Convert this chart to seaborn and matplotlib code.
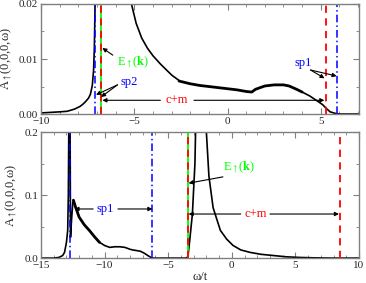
import numpy as np
import pandas as pd
import matplotlib
matplotlib.use("Agg")
import matplotlib.pyplot as plt
from matplotlib.ticker import MultipleLocator
import seaborn as sns

sns.set_style("ticks")
plt.rcParams['font.family'] = ['Liberation Serif', 'DejaVu Serif']
plt.rcParams['mathtext.fontset'] = 'stix'

# ---- top panel data (spectral function, small scale) ----
top_w = [-10, -9.5, -9.0, -8.6, -8.2, -7.9, -7.75, -7.6, -7.45, -7.35, -7.25, -7.18,
         -7.14, -7.1, -7.05, -6.8, -6.0, -5.5, -5.25, -5.15, -4.9, -4.6, -4.3, -4.0,
         -3.6, -3.3, -3.0, -2.6]
top_a = [0.0002, 0.0003, 0.0004, 0.0005, 0.0009, 0.0014, 0.0018, 0.0023, 0.0029, 0.0036,
         0.0052, 0.008, 0.012, 0.02, 0.03, 0.05, 0.04, 0.028, 0.022, 0.0200, 0.0165,
         0.0138, 0.0120, 0.0106, 0.0091, 0.0081, 0.0071, 0.0061]
top_noisy_w = [-2.6, -2.0, -1.5, -1.0, -0.5, 0.0, 0.5, 1.0, 1.3, 1.5, 2.0, 2.5, 3.0, 3.3, 3.7, 4.0]
top_noisy_a = [0.0060, 0.0055, 0.0052, 0.0050, 0.0048, 0.0046, 0.0044, 0.0041, 0.0040,
               0.0045, 0.0051, 0.0053, 0.0053, 0.0051, 0.0045, 0.0040]
top_tail_w = [4.0, 4.4, 4.8, 5.1, 5.3, 5.5, 5.8, 6.0, 7.0]
top_tail_a = [0.0040, 0.0033, 0.0024, 0.0017, 0.0010, 0.0004, 0.0001, 0.0, 0.0]

# ---- bottom panel data ----
bot_w = [-15, -14, -13.6, -13.3, -13.15, -13.0, -12.9, -12.85, -12.8, -12.72, -12.68,
         -12.6, -12.5, -12.45]
bot_a = [0.0, 0.0, 0.001, 0.004, 0.009, 0.025, 0.044, 0.1, 0.25, 0.25, 0.033,
         0.06, 0.088, 0.092]
bot_noisy_w = [-12.45, -12.3, -12.0, -11.6, -11.2, -10.8, -10.4]
bot_noisy_a = [0.092, 0.082, 0.065, 0.053, 0.044, 0.034, 0.025]
bot_mid_w = [-10.4, -10.0, -9.6, -9.2, -8.8, -8.4, -8.0, -7.8, -7.5, -7.2, -6.9, -6.6,
             -6.35, -6.2, -3.6, -3.45, -3.3, -3.1, -2.9, -2.8, -2.1, -2.0, -1.8, -1.47,
             -0.9, -0.4, 0.1, 0.7, 1.45, 2.3, 3.3, 4.3, 5.4, 6.5, 8.0, 10.0]
bot_mid_a = [0.025, 0.02, 0.017, 0.018, 0.018, 0.017, 0.014, 0.013, 0.012, 0.011, 0.008,
             0.004, 0.001, 0.0, 0.0, 0.002, 0.03, 0.07, 0.15, 0.25, 0.3, 0.2, 0.13, 0.08,
             0.044, 0.03, 0.02, 0.013, 0.009, 0.006, 0.004, 0.002, 0.001, 0.0004, 0.0, 0.0]

# reference energies
top_ek, top_cm, top_sp2, top_sp1 = -6.76, 5.29, -7.1, 5.85
bot_ek, bot_cm, bot_sp1_lo, bot_sp1_hi = -3.45, 8.52, -12.7, -6.24

RED, GREEN, BLUE = '#ff0000', '#00ff00', '#0000ff'
FRAME = '#808080'

fig = plt.figure(figsize=(3.66, 2.83), dpi=100)
ax1 = fig.add_axes([0.112, 0.597, 0.869, 0.389])
ax2 = fig.add_axes([0.112, 0.088, 0.869, 0.445])

def style(ax):
    for s in ax.spines.values():
        s.set_color(FRAME)
        s.set_linewidth(1.0)
    ax.tick_params(which='both', direction='in', top=True, right=True,
                   color=FRAME, labelsize=8, pad=2)
    ax.tick_params(which='major', length=4)
    ax.tick_params(which='minor', length=2)

def seg(ax, w, a, lw):
    sns.lineplot(x=w, y=a, ax=ax, color='black', lw=lw, sort=False, estimator=None)

def arrow(ax, xy, xytext):
    ax.annotate('', xy=xy, xytext=xytext,
                arrowprops=dict(arrowstyle='-|>', color='black', lw=0.8,
                                mutation_scale=6, shrinkA=0, shrinkB=0))

# ---------- top ----------
seg(ax1, top_w, top_a, 1.2)
seg(ax1, top_noisy_w, top_noisy_a, 2.0)
seg(ax1, top_tail_w, top_tail_a, 1.2)
ax1.axvline(top_ek, color=GREEN, lw=1.3)
ax1.axvline(top_ek, color=RED, lw=1.3, ls=(0, (4, 3)))
ax1.axvline(top_cm, color=RED, lw=1.3, ls=(0, (4, 3)))
ax1.axvline(top_sp2, color=BLUE, lw=1.1, ls=(0, (5, 2, 1, 2)))
ax1.axvline(top_sp1, color=BLUE, lw=1.1, ls=(0, (5, 2, 1, 2)))
ax1.set_xlim(-10, 7.05)
ax1.set_ylim(0, 0.02)
ax1.xaxis.set_major_locator(MultipleLocator(5))
ax1.xaxis.set_minor_locator(MultipleLocator(1))
ax1.yaxis.set_major_locator(MultipleLocator(0.01))
ax1.yaxis.set_minor_locator(MultipleLocator(0.005))
ax1.set_yticklabels([f'{v:.2f}' for v in ax1.get_yticks()])
ax1.set_xlabel('')
ax1.set_ylabel(r'A$_\uparrow$(0,0,0,ω)', fontsize=9, labelpad=3)
style(ax1)

ax1.text(-5.05, 0.0093, r'E$_\uparrow$($\mathbf{k}$)', color=GREEN, fontsize=9,
         ha='center', va='center')
arrow(ax1, (top_ek + 0.05, 0.012), (-6.15, 0.0107))
ax1.text(-5.27, 0.0058, 'sp2', color=BLUE, fontsize=9, ha='center', va='center')
arrow(ax1, (top_sp2 + 0.05, 0.0035), (-5.9, 0.0053))
arrow(ax1, (top_ek - 0.02, 0.0031), (-5.9, 0.0053))
ax1.text(-2.7, 0.0025, 'c+m', color=RED, fontsize=9, ha='center', va='center')
arrow(ax1, (top_ek + 0.05, 0.0025), (-3.6, 0.0025))
arrow(ax1, (top_cm - 0.1, 0.0025), (-1.8, 0.0025))
ax1.text(4.03, 0.0093, 'sp1', color=BLUE, fontsize=9, ha='center', va='center')
arrow(ax1, (5.2, 0.0065), (4.45, 0.008))
arrow(ax1, (top_sp1, 0.0069), (4.45, 0.008))

# ---------- bottom ----------
seg(ax2, bot_w, bot_a, 1.2)
seg(ax2, bot_noisy_w, bot_noisy_a, 2.0)
seg(ax2, bot_mid_w, bot_mid_a, 1.2)
ax2.axvline(bot_ek, color=GREEN, lw=1.3)
ax2.axvline(bot_ek, color=RED, lw=1.3, ls=(0, (4, 3)))
ax2.axvline(bot_cm, color=RED, lw=1.3, ls=(0, (4, 3)))
ax2.axvline(bot_sp1_lo, color=BLUE, lw=1.1, ls=(0, (5, 2, 1, 2)))
ax2.axvline(bot_sp1_hi, color=BLUE, lw=1.1, ls=(0, (5, 2, 1, 2)))
ax2.set_xlim(-15, 10)
ax2.set_ylim(0, 0.2)
ax2.xaxis.set_major_locator(MultipleLocator(5))
ax2.xaxis.set_minor_locator(MultipleLocator(1))
ax2.yaxis.set_major_locator(MultipleLocator(0.1))
ax2.yaxis.set_minor_locator(MultipleLocator(0.05))
ax2.set_yticklabels([f'{v:.1f}' for v in ax2.get_yticks()])
ax2.set_xlabel('ω/t', fontsize=9, labelpad=1)
ax2.set_ylabel(r'A$_\uparrow$(0,0,0,ω)', fontsize=9, labelpad=3)
style(ax2)

ax2.text(-9.92, 0.078, 'sp1', color=BLUE, fontsize=9, ha='center', va='center')
arrow(ax2, (-12.37, 0.078), (-10.9, 0.078))
arrow(ax2, (bot_sp1_hi, 0.078), (-8.95, 0.078))
ax2.text(0.6, 0.143, r'E$_\uparrow$($\mathbf{k}$)', color=GREEN, fontsize=9,
         ha='center', va='center')
arrow(ax2, (bot_ek + 0.05, 0.119), (-0.7, 0.129))
ax2.text(1.86, 0.07, 'c+m', color=RED, fontsize=9, ha='center', va='center')
arrow(ax2, (bot_ek + 0.05, 0.07), (0.7, 0.07))
arrow(ax2, (bot_cm - 0.1, 0.07), (3.0, 0.07))

fig.savefig('out.png', dpi=100)
